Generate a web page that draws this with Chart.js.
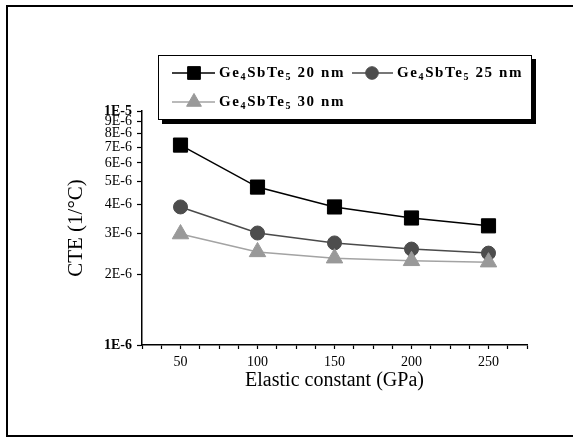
<!DOCTYPE html>
<html>
<head>
<meta charset="utf-8">
<script src="https://cdn.jsdelivr.net/npm/chart.js@4.4.1/dist/chart.umd.min.js"></script>
<style>
  body { margin: 0; background: #fff; }
  #wrap { position: relative; width: 573px; height: 439px; overflow: hidden; }
  #frame { position: absolute; left: 6px; top: 5px; width: 580px; height: 428px;
           border: 2px solid #000; border-right: none; pointer-events: none; }
</style>
</head>
<body>
<div id="wrap">
  <canvas id="cte" width="573" height="439"></canvas>
  <div id="frame"></div>
</div>
<script>
// Elastic constant (GPa)
const elastic = [50, 100, 150, 200, 250];

// CTE values (1/°C)
const cte20 = [7.15e-6, 4.73e-6, 3.89e-6, 3.49e-6, 3.23e-6];
const cte25 = [3.89e-6, 3.01e-6, 2.73e-6, 2.57e-6, 2.47e-6];
const cte30 = [2.98e-6, 2.50e-6, 2.35e-6, 2.29e-6, 2.26e-6];

// legend labels, "_d" = subscript digit
const seriesLabels = ['Ge_4SbTe_5 20 nm', 'Ge_4SbTe_5 25 nm', 'Ge_4SbTe_5 30 nm'];

// tick values
const yTicks = [1e-6, 2e-6, 3e-6, 4e-6, 5e-6, 6e-6, 7e-6, 8e-6, 9e-6, 1e-5];
const xTicks = [25, 37.5, 50, 62.5, 75, 87.5, 100, 112.5, 125, 137.5, 150, 162.5, 175,
                187.5, 200, 212.5, 225, 237.5, 250, 262.5, 275];
const xLabeled = [50, 100, 150, 200, 250];

const serif = "'Liberation Serif', 'Times New Roman', serif";

function expLabel(v) {
  const e = Math.floor(Math.log10(v) + 1e-9);
  const m = Math.round(v / Math.pow(10, e));
  return m + 'E' + e;
}

function pts(arr) {
  return elastic.map((x, i) => ({ x: x, y: arr[i] }));
}

// draw label text with subscripts
function drawRich(ctx, text, x, y) {
  const parts = text.split(/(_\d)/);
  ctx.textBaseline = 'middle';
  ctx.textAlign = 'left';
  ctx.letterSpacing = '1.6px';
  parts.forEach(p => {
    if (!p) return;
    if (p[0] === '_') {
      ctx.font = 'bold 10px ' + serif;
      ctx.fillText(p[1], x, y + 4);
      x += ctx.measureText(p[1]).width;
    } else {
      ctx.font = 'bold 15px ' + serif;
      ctx.fillText(p, x, y);
      x += ctx.measureText(p).width;
    }
  });
  ctx.letterSpacing = '0px';
}

const boxLegend = {
  id: 'boxLegend',
  afterDraw(chart) {
    const ctx = chart.ctx;
    const bx = 158, by = 55, bw = 374, bh = 65;
    ctx.save();
    // shadow
    ctx.fillStyle = '#000';
    ctx.fillRect(bx + 4, by + 4, bw, bh);
    ctx.fillStyle = '#fff';
    ctx.fillRect(bx, by, bw, bh);
    ctx.strokeStyle = '#000';
    ctx.lineWidth = 1;
    ctx.strokeRect(bx + 0.5, by + 0.5, bw - 1, bh - 1);

    const slots = [
      { x0: 172, x1: 215, mx: 194, tx: 219, y: 73 },
      { x0: 352, x1: 393, mx: 372, tx: 397, y: 73 },
      { x0: 172, x1: 215, mx: 194, tx: 219, y: 102 }
    ];
    chart.data.datasets.forEach((ds, i) => {
      const s = slots[i];
      ctx.strokeStyle = ds.borderColor;
      ctx.lineWidth = 1.5;
      ctx.beginPath();
      ctx.moveTo(s.x0, s.y);
      ctx.lineTo(s.x1, s.y);
      ctx.stroke();
      ctx.fillStyle = ds.pointBackgroundColor;
      ctx.strokeStyle = ds.pointBorderColor;
      ctx.lineWidth = 1;
      Chart.helpers.drawPoint(ctx, {
        pointStyle: ds.pointStyle, radius: ds.pointRadius * 0.9, borderWidth: 1
      }, s.mx, s.y);
      ctx.fillStyle = '#000';
      drawRich(ctx, seriesLabels[i], s.tx, s.y);
    });
    ctx.restore();
  }
};

new Chart(document.getElementById('cte'), {
  type: 'line',
  data: {
    datasets: [
      {
        label: seriesLabels[0], data: pts(cte20),
        borderColor: '#000', borderWidth: 1.5,
        pointStyle: 'rect', pointRadius: 10,
        pointBackgroundColor: '#000', pointBorderColor: '#000', pointBorderWidth: 1,
        order: 2
      },
      {
        label: seriesLabels[1], data: pts(cte25),
        borderColor: '#4a4a4a', borderWidth: 1.5,
        pointStyle: 'circle', pointRadius: 7,
        pointBackgroundColor: '#4d4d4d', pointBorderColor: '#4d4d4d', pointBorderWidth: 1,
        order: 1
      },
      {
        label: seriesLabels[2], data: pts(cte30),
        borderColor: '#a3a3a3', borderWidth: 1.5,
        pointStyle: 'triangle', pointRadius: 9.5,
        pointBackgroundColor: '#999999', pointBorderColor: '#999999', pointBorderWidth: 1,
        order: 0
      }
    ]
  },
  options: {
    responsive: false,
    animation: false,
    layout: { padding: { top: 111, right: 46, left: 0, bottom: 0 } },
    plugins: {
      legend: { display: false },
      tooltip: { enabled: false }
    },
    scales: {
      x: {
        type: 'linear',
        min: 25, max: 275,
        afterBuildTicks: s => { s.ticks = xTicks.map(v => ({ value: v })); },
        afterFit: s => { s.height = 94; },
        grid: { display: true, drawOnChartArea: false, drawTicks: true, tickLength: 4, tickColor: '#000', tickWidth: 1.2 },
        border: { display: true, color: '#000', width: 1.5 },
        ticks: {
          autoSkip: false, maxRotation: 0, padding: 5, color: '#000',
          font: { family: serif, size: 14 },
          callback: v => xLabeled.includes(v) ? String(v) : ''
        },
        title: {
          display: true, text: 'Elastic constant (GPa)', color: '#000',
          font: { family: serif, size: 20 },
          padding: { top: 0, bottom: 46 }
        }
      },
      y: {
        type: 'logarithmic',
        min: 1e-6, max: 1e-5,
        afterBuildTicks: s => { s.ticks = yTicks.map(v => ({ value: v })); },
        afterFit: s => { s.width = 142; },
        grid: { display: true, drawOnChartArea: false, drawTicks: true, tickLength: 5, tickColor: '#000', tickWidth: 1.2 },
        border: { display: true, color: '#000', width: 1.5 },
        ticks: {
          autoSkip: false, padding: 5, color: '#000',
          font: c => ({
            family: serif, size: 14,
            weight: (c.tick && (c.tick.value === 1e-5 || c.tick.value === 1e-6)) ? 'bold' : 'normal'
          }),
          callback: v => expLabel(v)
        },
        title: {
          display: true, text: 'CTE (1/°C)', color: '#000',
          font: { family: serif, size: 21 },
          padding: { top: 64, bottom: 0 }
        }
      }
    }
  },
  plugins: [boxLegend]
});
</script>
</body>
</html>
